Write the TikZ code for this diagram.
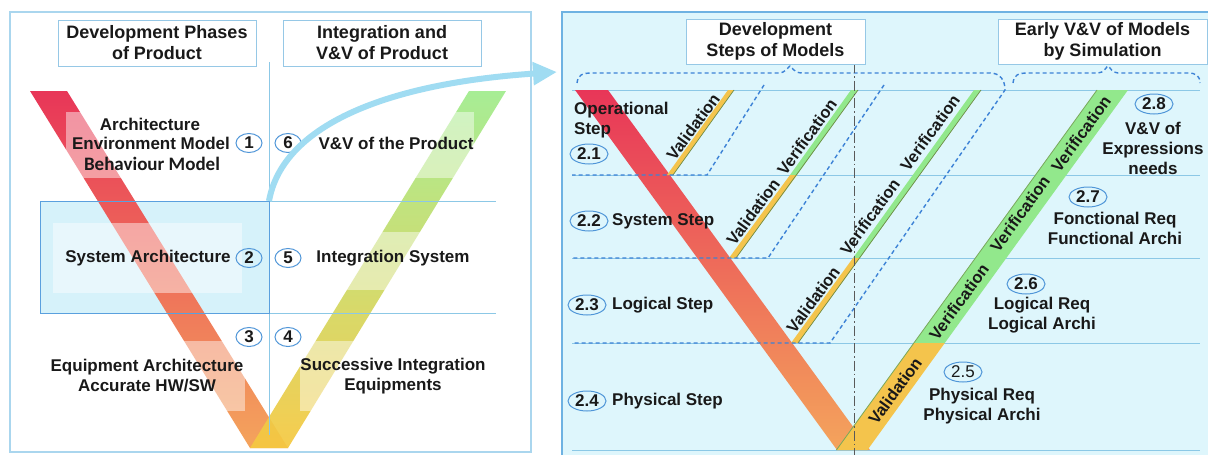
\documentclass[tikz,border=0pt]{standalone}
\usepackage{fontspec}
\setmainfont{Liberation Sans}
\newfontfamily\calibri{Carlito}
\usetikzlibrary{shapes,arrows,arrows.meta}

\definecolor{framec}{RGB}{170,214,238}
\definecolor{panelc}{RGB}{222,246,252}
\definecolor{panelb}{RGB}{110,178,226}
\definecolor{headc}{RGB}{150,200,230}
\definecolor{rowc}{RGB}{140,200,230}
\definecolor{dashc}{RGB}{60,130,214}
\definecolor{numc}{RGB}{80,150,216}
\definecolor{boxc}{RGB}{214,242,250}
\definecolor{boxb}{RGB}{90,160,222}
\definecolor{vred}{RGB}{232,54,88}
\definecolor{vpink}{RGB}{238,90,110}
\definecolor{vorange}{RGB}{244,164,92}
\definecolor{vgreen}{RGB}{160,236,140}
\definecolor{vyellow}{RGB}{232,240,70}
\definecolor{vgold}{RGB}{246,200,64}
\definecolor{sgreen}{RGB}{146,232,140}
\definecolor{sgold}{RGB}{244,196,76}
\definecolor{sedge}{RGB}{110,140,70}
\definecolor{arrowc}{RGB}{160,220,242}
\definecolor{inkc}{RGB}{25,25,25}

\begin{document}
\begin{tikzpicture}[x=1pt,y=-1pt]
	\tikzstyle{head} = [draw=headc, fill=white, line width=0.9pt, align=center, text=inkc, font=\fontsize{18}{21}\selectfont\bfseries, minimum height=46]
	\tikzstyle{txt} = [align=center, inner sep=0pt, text=inkc, font=\fontsize{17}{20}\selectfont\bfseries]
	\tikzstyle{num} = [draw=numc, ellipse, line width=1pt, inner sep=0pt, minimum width=26, minimum height=19, text=inkc, font=\fontsize{17}{20}\selectfont\bfseries]
	\tikzstyle{step num} = [num, minimum width=38, minimum height=20]
	\tikzstyle{vtag} = [rotate=54, inner sep=0pt, text=inkc, font=\fontsize{16.5}{19}\selectfont\bfseries]
	\tikzstyle{row line} = [draw=rowc, line width=0.8pt]
	\tikzstyle{brace} = [draw=dashc, line width=1.4pt, dash pattern=on 4pt off 3pt]
	\tikzstyle{veil} = [fill=white, fill opacity=0.45]

	\useasboundingbox (0,0) rectangle (1208,455);

	% left panel: product V
	\draw[framec, line width=1.2pt, fill=white] (10,12) rectangle (531,452);
	\fill[boxc] (40,201) rectangle (269,313);

	\shade[top color=vred, middle color=vpink, bottom color=vorange] (30,91) -- (67,91) -- (288,448) -- (250,448) -- cycle;
	\shade[top color=vgreen, middle color=vyellow, bottom color=vgold, opacity=0.92] (469,91) -- (506,91) -- (288,448) -- (250,448) -- cycle;

	\fill[veil] (66,112) rectangle (240,178);
	\fill[veil] (312,112) rectangle (474,178);
	\fill[veil] (53,223) rectangle (242,293);
	\fill[veil] (300,232) rectangle (480,290);
	\fill[veil] (55,341) rectangle (245,411);
	\fill[veil] (300,341) rectangle (485,411);

	\draw[rowc, line width=0.8pt] (269,62) -- (269,435);
	\draw[row line] (269,201) -- (496,201);
	\draw[row line] (40,313) -- (496,313);
	\draw[boxb, line width=1pt] (40,201) rectangle (269,313);

	\node[head, minimum width=198] (phases) at (157,43) {Development Phases\\of Product};
	\node[head, minimum width=198] (integ) at (382,43) {Integration and\\V\&V of Product};

	\node[txt] (arch) at (150,124) {Architecture};
	\node[txt] (env) at (151,143) {Environment Model};
	\node[txt, font=\calibri\fontsize{19}{20}\selectfont\bfseries] (behav) at (152,164) {Behaviour Model};
	\node[num] (n1) at (249,143) {1};
	\node[num] (n6) at (288,143) {6};
	\node[txt] (vvprod) at (396,143) {V\&V of the Product};

	\node[txt] (sysarch) at (148,258) {System Architecture};
	\node[num] (n2) at (249,258) {2};
	\node[num] (n5) at (288,258) {5};
	\node[txt] (intsys) at (393,258) {Integration System};

	\node[num] (n3) at (249,337) {3};
	\node[num] (n4) at (288,337) {4};
	\node[txt] (equip) at (147,376) {Equipment Architecture\\Accurate HW/SW};
	\node[txt] (succ) at (393,376) {Successive Integration\\Equipments};

	% right panel: model steps
	\fill[panelc] (562,12) rectangle (1208,455);
	\draw[panelb, line width=1.2pt] (1208,12) -- (562,12) -- (562,455);

	\foreach \y in {90,175,258,343,450}
		\draw[row line] (572,\y) -- (1200,\y);

	\shade[top color=vred, middle color=vpink, bottom color=vorange] (575,90) -- (608,90) -- (870,450) -- (837,450) -- cycle;

	\fill[sgreen] (1097,90) -- (1128,90) -- (944.8,343) -- (913.8,343) -- cycle;
	\fill[sgold] (913.8,343) -- (944.8,343) -- (867.4,450) -- (836.4,450) -- cycle;
	\draw[sedge!70!sgreen, line width=0.8pt] (1097,90) -- (836.4,450);

	% thin validation / verification strips
	\fill[sgold] (728,90) -- (734,90) -- (673,175) -- (667,175) -- cycle;
	\fill[sgreen] (851,90) -- (858,90) -- (797,175) -- (790,175) -- cycle;
	\fill[sgold] (790,175) -- (797,175) -- (736,258) -- (729,258) -- cycle;
	\fill[sgreen] (974,90) -- (981,90) -- (860,258) -- (853,258) -- cycle;
	\fill[sgold] (853,258) -- (860,258) -- (798,343) -- (791,343) -- cycle;
	\draw[sedge, line width=0.7pt] (734,90) -- (673,175);
	\draw[sedge, line width=0.7pt] (858,90) -- (736,258);
	\draw[sedge, line width=0.7pt] (981,90) -- (798,343);

	\draw[brace] (577,83) .. controls (578,75) and (582,73) .. (592,73) -- (778,73) .. controls (786,73) and (788,67) .. (790,66) .. controls (792,67) and (794,73) .. (802,73) -- (990,73) .. controls (1000,73) and (1005,80) .. (1005,90) -- (830,343) -- (572,343);
	\draw[brace] (764,85) -- (707,175) -- (572,175);
	\draw[brace] (884,85) -- (768,258) -- (572,258);
	\draw[brace] (1013,83) .. controls (1014,75) and (1018,73) .. (1028,73) -- (1098,73) .. controls (1104,73) and (1106,67) .. (1108,66) .. controls (1110,67) and (1112,73) .. (1118,73) -- (1188,73) .. controls (1196,73) and (1200,76) .. (1200,83);

	\draw[black!65, line width=0.8pt, dash pattern=on 10pt off 3pt on 1.5pt off 3pt] (854,63) -- (854,455);

	\node[head, minimum width=179, minimum height=45] (devsteps) at (775.5,41.5) {Development\\Steps of Models};
	\node[head, minimum width=209, minimum height=45] (early) at (1102.5,41.5) {Early V\&V of Models\\by Simulation};

	\node[vtag] (val a) at (693,127) {Validation};
	\node[vtag] (ver b) at (807,137) {Verification};
	\node[vtag] (val b) at (753,212) {Validation};
	\node[vtag] (ver c) at (930,133) {Verification};
	\node[vtag] (ver d) at (870,217) {Verification};
	\node[vtag] (val c) at (813,300) {Validation};
	\node[vtag] (ver e) at (1081,134) {Verification};
	\node[vtag] (ver f) at (1020,214) {Verification};
	\node[vtag] (ver g) at (959,302) {Verification};
	\node[vtag] (val d) at (895,391) {Validation};

	\node[txt, align=left, anchor=west] (opstep) at (574,120) {Operational\\Step};
	\node[step num] (s21) at (589,154) {2.1};
	\node[step num] (s22) at (589,221) {2.2};
	\node[txt, anchor=west] (sysstep) at (612,221) {System Step};
	\node[step num] (s23) at (587,305) {2.3};
	\node[txt, anchor=west] (logstep) at (612,305) {Logical Step};
	\node[step num] (s24) at (587,401) {2.4};
	\node[txt, anchor=west] (phystep) at (612,401) {Physical Step};

	\node[step num] (s28) at (1154,104) {2.8};
	\node[txt] (vvexp) at (1153,148) {V\&V of\\Expressions\\needs};
	\node[step num] (s27) at (1088,197) {2.7};
	\node[txt] (funreq) at (1115,228) {Fonctional Req\\Functional Archi};
	\node[step num] (s26) at (1026,284) {2.6};
	\node[txt] (logreq) at (1042,315) {Logical Req\\Logical Archi};
	\node[step num, font=\fontsize{17}{20}\selectfont] (s25) at (963,372) {2.5};
	\node[txt] (phyreq) at (982,406) {Physical Req\\Physical Archi};

	% zoom arrow from system level to model steps
	\coordinate (zoom from) at (269,201);
	\coordinate (zoom to) at (557,72);
	\draw[arrowc, line width=6pt, -{Triangle[length=24pt,width=22pt]}] (zoom from) .. controls (282,128) and (380,84) .. (zoom to);
\end{tikzpicture}
\end{document}
